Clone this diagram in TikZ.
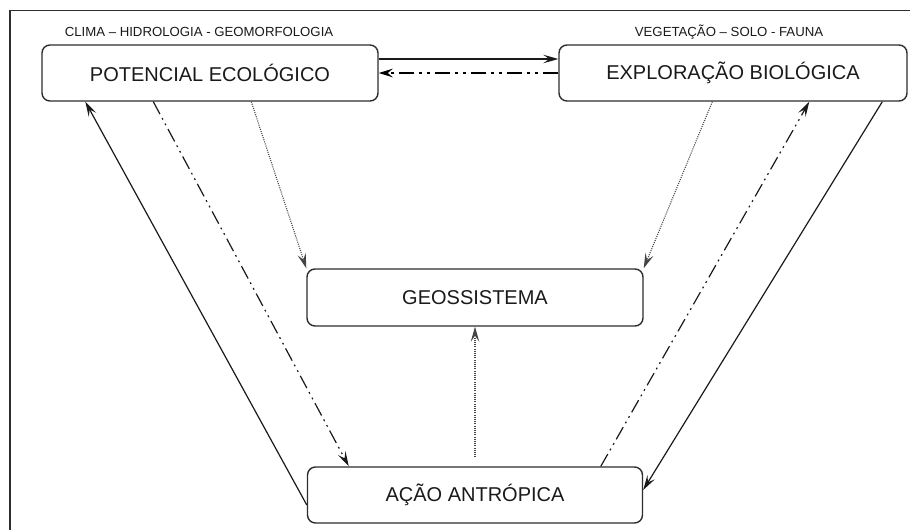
\documentclass[tikz,border=0pt]{standalone}
\usepackage{fontspec}
\setmainfont{Liberation Sans}
\usetikzlibrary{arrows.meta}
\definecolor{ink}{HTML}{1A1A1A}
\definecolor{boxline}{HTML}{2E2E2E}
\definecolor{dotink}{HTML}{444444}
\begin{document}
\begin{tikzpicture}[x=1pt,y=-1pt,
  stagebox/.style={draw=boxline, line width=1.4pt, rounded corners=8pt, rectangle,
    inner sep=0pt, font=\fontsize{20}{22}\selectfont, text=ink},
  toplabel/.style={font=\fontsize{13.2}{15}\selectfont, text=ink, inner sep=0pt},
  tip/.style={-{Stealth[length=15pt,width=8.5pt,inset=6pt]}},
  solidlink/.style={tip, draw=ink, line width=1.2pt},
  dashdotlink/.style={tip, draw=ink, line width=1.2pt,
    dash pattern=on 14pt off 4.5pt on 1.8pt off 4.5pt on 1.8pt off 4.5pt},
  thickdashlink/.style={-{Stealth[length=14pt,width=8.5pt,inset=5pt]}, draw=black, line width=2.8pt,
    dash pattern=on 15pt off 5pt on 3pt off 5pt on 3pt off 5pt},
  dotlink/.style={tip, draw=dotink, line width=1.1pt, dash pattern=on 1pt off 1.2pt}
]
\useasboundingbox (0,0) rectangle (910,530);
\fill[white] (0,0) rectangle (910,530);
\draw[boxline, line width=1.5pt] (10,530) -- (10,10.5) -- (910,10.5);

\node[stagebox, minimum width=336pt, minimum height=56pt] (pot) at (210,73) {POTENCIAL ECOLÓGICO};
\node[stagebox, minimum width=348pt, minimum height=56pt] (exp) at (733,73) {EXPLORAÇÃO BIOLÓGICA};
\node[stagebox, minimum width=336pt, minimum height=57pt] (geo) at (475,297.5) {GEOSSISTEMA};
\node[stagebox, minimum width=335pt, minimum height=56pt] (acao) at (475,495) {AÇÃO ANTRÓPICA};

\node[toplabel] (lblA) at (199,32) {CLIMA – HIDROLOGIA - GEOMORFOLOGIA};
\node[toplabel] (lblB) at (729,32) {VEGETAÇÃO – SOLO - FAUNA};

% horizontal links
\draw[solidlink] ([yshift=14pt]pot.east) -- ([yshift=14pt]exp.west);
\draw[thickdashlink] (exp.west) -- (pot.east);

% left side
\draw[solidlink] ([yshift=-10pt]acao.west) -- ([xshift=44pt]pot.south west);
\draw[dashdotlink] ([xshift=112pt]pot.south west) -- ([xshift=42pt]acao.north west);
\draw[dotlink] ([xshift=210pt]pot.south west) -- (geo.north west);

% right side
\draw[dotlink] ([xshift=154pt]exp.south west) -- (geo.north east);
\draw[dashdotlink] ([xshift=294pt]acao.north west) -- ([xshift=251pt]exp.south west);
\draw[solidlink] ([xshift=324pt]exp.south west) -- ([yshift=5pt]acao.east);

% centre
\draw[dotlink, shorten <=9pt] (acao.north) -- (geo.south);
\end{tikzpicture}
\end{document}
